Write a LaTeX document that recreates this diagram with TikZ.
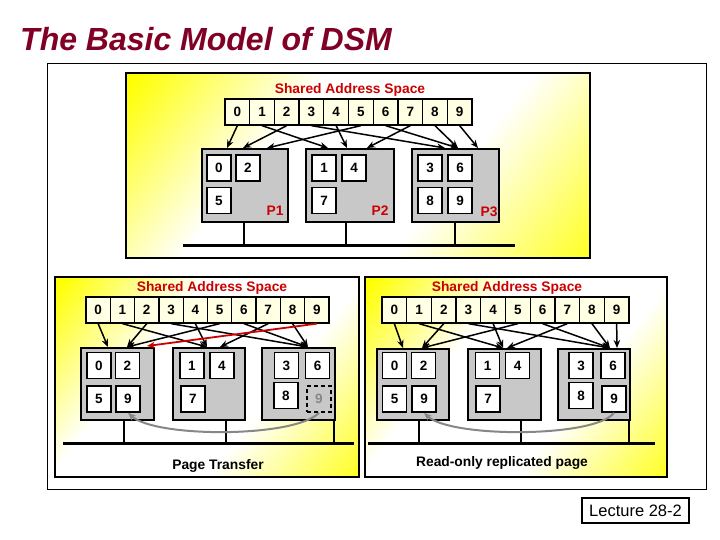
\documentclass[tikz,border=0pt]{standalone}
\usepackage{fontspec}
\setmainfont{Liberation Sans}
\usetikzlibrary{arrows.meta,calc}
\definecolor{ttl}{RGB}{128,0,38}
\definecolor{rd}{RGB}{204,0,0}
\definecolor{boxgray}{RGB}{200,200,200}
\definecolor{cream}{RGB}{255,255,228}
\definecolor{xgray}{RGB}{135,135,135}
\pgfdeclarehorizontalshading{ywy}{100bp}{color(0bp)=(yellow); color(16bp)=(yellow); color(38bp)=(white); color(62bp)=(white); color(86bp)=(yellow!90!white); color(100bp)=(yellow!90!white)}
\tikzset{
  panel/.style={draw=black, line width=2pt, shading=ywy, shading angle=-38},
  addr/.style={draw, line width=1.3pt, fill=cream, minimum width=24.7pt, minimum height=26pt, inner sep=0pt, font=\bfseries\fontsize{13.5}{15}\selectfont},
  proc/.style={draw, line width=2pt, fill=boxgray, inner sep=0pt},
  pg/.style={draw, line width=1.5pt, fill=white, minimum width=24pt, minimum height=26pt, inner sep=0pt, font=\bfseries\fontsize{13.5}{15}\selectfont},
  lbl/.style={text=rd, inner sep=0pt, font=\bfseries\fontsize{13.8}{15}\selectfont},
  note/.style={inner sep=0pt, font=\bfseries\fontsize{13.8}{15}\selectfont},
  arr/.style={line width=1.5pt, -{Stealth[length=8pt,width=6.5pt]}},
  redarr/.style={rd, line width=1.8pt, -{Stealth[length=8pt,width=6.5pt]}},
  bus/.style={line width=3pt},
  drop/.style={line width=2pt},
  xfer/.style={xgray, line width=2pt, -{Stealth[length=8pt,width=6.5pt]}},
}
\begin{document}
\begin{tikzpicture}[x=1pt,y=-1pt]
\useasboundingbox (0,0) rectangle (720,540);
\fill[white] (0,0) rectangle (720,540);
% title
\node[anchor=base west, inner sep=0pt, text=ttl, font=\bfseries\itshape\fontsize{32}{36}\selectfont] (title) at (20,51) {The Basic Model of DSM};
% outer frame
\draw[line width=0.8pt, fill=white] (47,63) rectangle (706,489);

%%%%%%%% TOP PANEL
\shade[panel] (126,73) rectangle (590,258);
\node[lbl] (ts) at (350,90) {Shared Address Space};
\draw[bus] (183,245) -- (515,245);
\node[proc, minimum width=86pt, minimum height=73pt] (TP1) at (245,185.5) {};
\node[proc, minimum width=88pt, minimum height=73pt] (TP2) at (350,185.5) {};
\node[proc, minimum width=87pt, minimum height=73pt] (TP3) at (455.5,185.5) {};
\coordinate (tb1) at (244,245);
\coordinate (tb2) at (346,245);
\coordinate (tb3) at (455,245);
\draw[drop] (TP1.south -| tb1) -- (tb1);
\draw[drop] (TP2.south -| tb2) -- (tb2);
\draw[drop] (TP3.south -| tb3) -- (tb3);
\node[pg] (t10) at (219,168) {0};
\node[pg] (t12) at (248,168) {2};
\node[pg] (t15) at (219,200.5) {5};
\node[pg] (t21) at (324,168) {1};
\node[pg] (t24) at (354,168) {4};
\node[pg] (t27) at (324,200.5) {7};
\node[pg] (t33) at (430,168) {3};
\node[pg] (t36) at (460,168) {6};
\node[pg] (t38) at (430,200.5) {8};
\node[pg] (t39) at (460,200.5) {9};
\node[lbl] (tl1) at (275,211) {P1};
\node[lbl] (tl2) at (380,211) {P2};
\node[lbl] (tl3) at (489,212) {P3};
\foreach \i in {0,...,9} \node[addr] (a\i) at (237.35+24.7*\i,112) {\i};
\coordinate (th0) at (227,148);
\coordinate (th2) at (243,148);
\coordinate (th5) at (267,148);
\coordinate (th1) at (328,148);
\coordinate (th4) at (347,148);
\coordinate (th7) at (367,148);
\coordinate (th3) at (445,148);
\coordinate (th6) at (458,148);
\coordinate (th8) at (458,148);
\coordinate (th9) at (478,148);
\foreach \i in {0,...,9} \draw[arr] (a\i.south) -- (th\i);

%%%%%%%% BOTTOM LEFT PANEL
\shade[panel] (55,277) rectangle (359,477);
\node[lbl] (ls) at (212,288) {Shared Address Space};
\draw[bus] (63,443) -- (354,443);
\node[proc, minimum width=73pt, minimum height=72pt] (LP1) at (117.5,384) {};
\node[proc, minimum width=72pt, minimum height=72pt] (LP2) at (209,384) {};
\node[proc, minimum width=73pt, minimum height=72pt] (LP3) at (298.5,384) {};
\coordinate (lb1) at (124,443);
\coordinate (lb2) at (226,443);
\coordinate (lb3) at (334,443);
\draw[drop] (LP1.south -| lb1) -- (lb1);
\draw[drop] (LP2.south -| lb2) -- (lb2);
\draw[drop] (LP3.south -| lb3) -- (lb3);
\node[pg] (l10) at (99,365.5) {0};
\node[pg] (l12) at (127.5,365.5) {2};
\node[pg] (l15) at (99,399) {5};
\node[pg] (l19) at (128,399) {9};
\node[pg] (l21) at (192,365.5) {1};
\node[pg] (l24) at (222,365.5) {4};
\node[pg] (l27) at (193,399) {7};
\node[pg] (l33) at (286.5,365.5) {3};
\node[pg] (l36) at (317.5,365.5) {6};
\node[pg] (l38) at (286,395.5) {8};
\node[pg, dashed, dash pattern=on 4pt off 3pt, fill=boxgray, text=xgray] (l39) at (319,399) {9};
\foreach \i in {0,...,9} \node[addr, minimum width=24.3pt] (b\i) at (98.15+24.3*\i,310) {\i};
\coordinate (lh0) at (108,347);
\coordinate (lh2) at (127,347);
\coordinate (lh5) at (127,347);
\coordinate (lh1) at (207,347);
\coordinate (lh4) at (207,347);
\coordinate (lh7) at (220,347);
\coordinate (lh3) at (308,347);
\coordinate (lh6) at (308,347);
\coordinate (lh8) at (308,347);
\coordinate (lh9) at (147,346);
\foreach \i in {0,...,8} \draw[arr] (b\i.south) -- (lh\i);
\draw[redarr] (b9.south) -- (lh9);
\draw[xfer] (l39.south) .. controls (295,438) and (155,438) .. (l19.south);
\node[note] (lpt) at (218,466) {Page Transfer};

%%%%%%%% BOTTOM RIGHT PANEL
\shade[panel] (365,277) rectangle (667,477);
\node[lbl] (rs) at (507,288) {Shared Address Space};
\draw[bus] (368,443) -- (655,443);
\node[proc, minimum width=72pt, minimum height=71pt] (RP1) at (413,384.5) {};
\node[proc, minimum width=73pt, minimum height=71pt] (RP2) at (504.5,384.5) {};
\node[proc, minimum width=72pt, minimum height=71pt] (RP3) at (594,384.5) {};
\coordinate (rb1) at (419,443);
\coordinate (rb2) at (521,443);
\coordinate (rb3) at (629,443);
\draw[drop] (RP1.south -| rb1) -- (rb1);
\draw[drop] (RP2.south -| rb2) -- (rb2);
\draw[drop] (RP3.south -| rb3) -- (rb3);
\node[pg] (r10) at (394.5,365.5) {0};
\node[pg] (r12) at (423.5,365.5) {2};
\node[pg] (r15) at (394.5,399) {5};
\node[pg] (r19) at (424,399) {9};
\node[pg] (r21) at (487.5,365.5) {1};
\node[pg] (r24) at (517.5,365.5) {4};
\node[pg] (r27) at (488,399) {7};
\node[pg] (r33) at (581,365.5) {3};
\node[pg] (r36) at (613,365.5) {6};
\node[pg] (r38) at (581,395.5) {8};
\node[pg] (r39) at (614,399) {9};
\foreach \i in {0,...,9} \node[addr] (c\i) at (394.35+24.7*\i,310) {\i};
\coordinate (rh0) at (403,348);
\coordinate (rh2) at (422,348);
\coordinate (rh5) at (422,348);
\coordinate (rh1) at (503,348);
\coordinate (rh4) at (503,348);
\coordinate (rh7) at (507,348);
\coordinate (rh3) at (610,348);
\coordinate (rh6) at (610,348);
\coordinate (rh8) at (610,348);
\coordinate (rh9) at (617,348);
\foreach \i in {0,...,9} \draw[arr] (c\i.south) -- (rh\i);
\draw[xfer] (r39.south) .. controls (595,438) and (450,438) .. (r19.south);
\node[note] (rro) at (502,463) {Read-only replicated page};

% lecture box
\node[draw, line width=2pt, fill=white, minimum width=107pt, minimum height=25pt, inner sep=0pt, font=\fontsize{16.5}{18}\selectfont] (lec) at (635.5,510.5) {Lecture 28-2};
\end{tikzpicture}
\end{document}
